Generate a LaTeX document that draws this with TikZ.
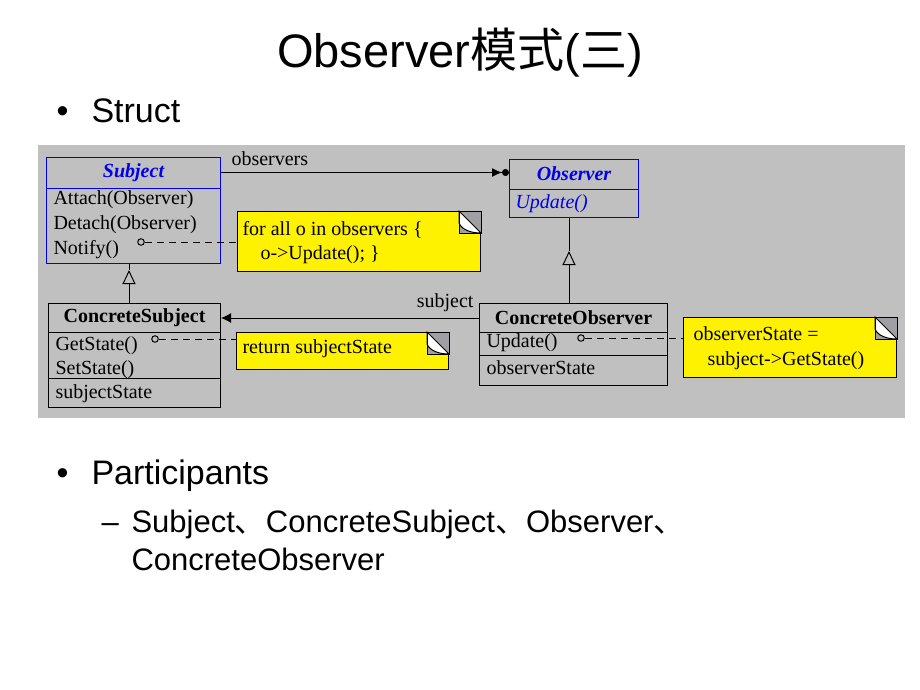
\documentclass[tikz,border=0pt]{standalone}
\usepackage{fontspec}
\setmainfont{Liberation Serif}
\newfontfamily\slidefont{Liberation Sans}
\newfontfamily\cjk{Noto Sans CJK SC}
\usetikzlibrary{arrows.meta,calc}

\definecolor{panel}{RGB}{192,192,192}
\definecolor{umlblue}{RGB}{0,0,235}
\definecolor{foldgray}{RGB}{160,160,164}

% dog-ear on the top right corner of a note
\newcommand\foldcorner[1]{%
  \fill[foldgray] ($(#1.north east)+(-22,0)$) rectangle ($(#1.north east)+(0,22)$);
  \filldraw[fill=white] ($(#1.north east)+(-22,0)$) -- ++(0,12) .. controls +(3,7) and +(-10,0) .. ($(#1.north east)+(0,22)$) -- cycle;
  \draw ($(#1.north east)+(-22,0)$) rectangle ($(#1.north east)+(0,22)$);
}

\begin{document}
\begin{tikzpicture}[x=1pt, y=-1pt, line width=1pt,
    cls/.style={draw, anchor=north west, inner sep=0pt},
    clsname/.style={inner sep=0pt, font=\bfseries\fontsize{20}{22}\selectfont},
    txt/.style={anchor=base west, inner sep=0pt, font=\fontsize{20}{22}\selectfont},
    note/.style={draw, fill=yellow, anchor=north west, inner sep=0pt},
    dot/.style={circle, draw, inner sep=0pt, minimum size=6.5pt},
    tie/.style={dash pattern=on 7pt off 5pt},
    slide/.style={anchor=base west, inner sep=0pt, font=\slidefont\fontsize{34}{40}\selectfont},
    subslide/.style={anchor=base west, inner sep=0pt, font=\slidefont\fontsize{31}{36}\selectfont}]
\fill[white] (0,0) rectangle (920,690);

\node[anchor=base, inner sep=0pt, font=\slidefont\fontsize{47}{52}\selectfont] (title) at (460,68) {Observer{\cjk 模式}({\cjk 三})};
\node[slide] (bull1) at (56,122) {•};
\node[slide] (struct) at (91,122) {Struct};
\node[slide] (bull2) at (56,484) {•};
\node[slide] (parts) at (91,484) {Participants};
\node[subslide] (dash) at (101,532) {–};
\node[subslide] (names) at (131,532) {Subject{\cjk 、}ConcreteSubject{\cjk 、}Observer{\cjk 、}};
\node[subslide] (names2) at (131,570) {ConcreteObserver};

\fill[panel] (38,145) rectangle (905,418);

% classes
\node[cls, draw=umlblue, minimum width=174pt, minimum height=106pt] (subj) at (46,157) {};
\draw[umlblue] ($(subj.north west)+(0,31)$) -- ++(174,0);
\node[clsname, font=\bfseries\itshape\fontsize{20}{22}\selectfont, text=umlblue] (subjname) at ($(subj.north)+(0,15.5)$) {Subject};
\node[txt] (attach) at (53,204) {Attach(Observer)};
\node[txt] (detach) at (53,229) {Detach(Observer)};
\node[txt] (notify) at (53,254) {Notify()};
\node[dot] (notifydot) at (141,242) {};

\node[cls, draw=umlblue, minimum width=129pt, minimum height=58pt] (obs) at (509,159) {};
\draw[umlblue] ($(obs.north west)+(0,30)$) -- ++(129,0);
\node[clsname, font=\bfseries\itshape\fontsize{20}{22}\selectfont, text=umlblue] (obsname) at ($(obs.north)+(0,15)$) {Observer};
\node[txt, font=\itshape\fontsize{20}{22}\selectfont, text=umlblue] (obsupdate) at (515,208) {Update()};

\node[cls, minimum width=172pt, minimum height=104pt] (csubj) at (48,303) {};
\draw ($(csubj.north west)+(0,29)$) -- ++(172,0);
\draw ($(csubj.north west)+(0,75)$) -- ++(172,0);
\node[clsname] (csubjname) at ($(csubj.north)+(0,15)$) {ConcreteSubject};
\node[txt] (getstate) at (55,350) {GetState()};
\node[txt] (setstate) at (55,374) {SetState()};
\node[txt] (substate) at (55,398) {subjectState};
\node[dot] (getdot) at (155,339) {};

\node[cls, minimum width=188pt, minimum height=82pt] (cobs) at (479,303) {};
\draw ($(cobs.north west)+(0,29)$) -- ++(188,0);
\draw ($(cobs.north west)+(0,52)$) -- ++(188,0);
\node[clsname] (cobsname) at ($(cobs.north)+(0,15)$) {ConcreteObserver};
\node[txt] (cobsupdate) at (486,347) {Update()};
\node[txt] (obsstate) at (486,374) {observerState};
\node[dot] (updatedot) at (581,338) {};

% associations
\draw[-{Latex[length=10pt,width=9pt]Circle[length=7pt]}] (subj.east |- subjname) -- (obs.west |- subjname);
\node[txt] (observers) at (231,165) {observers};
\draw[-{Latex[length=10pt,width=10pt]}] (cobs.west |- cobsname) -- (csubj.east |- cobsname);
\node[txt, anchor=base east] (subjlabel) at (474,307) {subject};

% inheritance
\coordinate (gensubj) at (129,270);
\draw[-{Triangle[open,length=14pt,width=13pt]}] (csubj.north -| gensubj) -- (gensubj);
\draw (gensubj) -- (subj.south -| gensubj);
\coordinate (genobs) at (569,251);
\draw[-{Triangle[open,length=14pt,width=13pt]}] (cobs.north -| genobs) -- (genobs);
\draw (genobs) -- (obs.south -| genobs);

% notes
\node[note, minimum width=243pt, minimum height=60pt] (note1) at (237,211) {};
\node[txt] (note1a) at (242,235) {for all o in observers \{};
\node[txt] (note1b) at (260,259) {o->Update(); \}};
\foldcorner{note1}
\draw[tie] (notifydot) -- (notifydot -| note1.west);

\node[note, minimum width=212pt, minimum height=37pt] (note2) at (236,332) {};
\node[txt] (note2a) at (242,353) {return subjectState};
\foldcorner{note2}
\draw[tie] (getdot) -- (getdot -| note2.west);

\node[note, minimum width=213pt, minimum height=60pt] (note3) at (683,317) {};
\node[txt] (note3a) at (693,340) {observerState =};
\node[txt] (note3b) at (707,365) {subject->GetState()};
\foldcorner{note3}
\draw[tie] (updatedot) -- (updatedot -| note3.west);
\end{tikzpicture}
\end{document}
